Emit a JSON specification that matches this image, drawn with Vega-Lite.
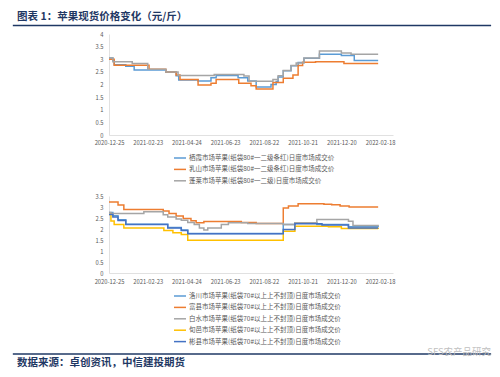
{
  "$schema": "https://vega.github.io/schema/vega-lite/v6.json",
  "padding": {"left": 12, "top": 12, "right": 10, "bottom": 0},
  "spacing": 8,
  "resolve": {"scale": {"color": "independent"}, "legend": {"color": "independent"}},
  "config": {
    "view": {"stroke": null},
    "font": "Noto Sans CJK SC",
    "axis": {"labelFont": "Noto Sans CJK SC", "labelFontSize": 5.8, "labelColor": "#595959", "ticks": false, "grid": false, "domainColor": "#D9D9D9", "domainWidth": 0.8, "title": null, "labelOverlap": false, "labelFlush": false},
    "legend": {"labelFont": "Noto Sans CJK SC", "labelFontSize": 6.5, "labelColor": "#595959", "symbolType": "stroke", "symbolSize": 144, "symbolStrokeWidth": 1.5, "labelOffset": 2, "rowPadding": 0.4, "padding": 0, "title": null}
  },
  "datasets": {
    "top": [
      {"m": "栖霞市场苹果(纸袋80#一二级条红)日度市场成交价", "d": "2020-12-25", "p": 3.05},
      {"m": "栖霞市场苹果(纸袋80#一二级条红)日度市场成交价", "d": "2020-12-31", "p": 2.95},
      {"m": "栖霞市场苹果(纸袋80#一二级条红)日度市场成交价", "d": "2021-01-02", "p": 2.78},
      {"m": "栖霞市场苹果(纸袋80#一二级条红)日度市场成交价", "d": "2021-01-20", "p": 2.72},
      {"m": "栖霞市场苹果(纸袋80#一二级条红)日度市场成交价", "d": "2021-02-02", "p": 2.57},
      {"m": "栖霞市场苹果(纸袋80#一二级条红)日度市场成交价", "d": "2021-03-23", "p": 2.5},
      {"m": "栖霞市场苹果(纸袋80#一二级条红)日度市场成交价", "d": "2021-04-08", "p": 2.35},
      {"m": "栖霞市场苹果(纸袋80#一二级条红)日度市场成交价", "d": "2021-04-12", "p": 2.18},
      {"m": "栖霞市场苹果(纸袋80#一二级条红)日度市场成交价", "d": "2021-05-12", "p": 2.14},
      {"m": "栖霞市场苹果(纸袋80#一二级条红)日度市场成交价", "d": "2021-06-01", "p": 2.27},
      {"m": "栖霞市场苹果(纸袋80#一二级条红)日度市场成交价", "d": "2021-06-09", "p": 2.36},
      {"m": "栖霞市场苹果(纸袋80#一二级条红)日度市场成交价", "d": "2021-07-13", "p": 2.27},
      {"m": "栖霞市场苹果(纸袋80#一二级条红)日度市场成交价", "d": "2021-07-28", "p": 2.14},
      {"m": "栖霞市场苹果(纸袋80#一二级条红)日度市场成交价", "d": "2021-08-10", "p": 1.9},
      {"m": "栖霞市场苹果(纸袋80#一二级条红)日度市场成交价", "d": "2021-09-02", "p": 2.0},
      {"m": "栖霞市场苹果(纸袋80#一二级条红)日度市场成交价", "d": "2021-09-10", "p": 2.12},
      {"m": "栖霞市场苹果(纸袋80#一二级条红)日度市场成交价", "d": "2021-09-13", "p": 2.3},
      {"m": "栖霞市场苹果(纸袋80#一二级条红)日度市场成交价", "d": "2021-09-21", "p": 2.54},
      {"m": "栖霞市场苹果(纸袋80#一二级条红)日度市场成交价", "d": "2021-10-03", "p": 2.74},
      {"m": "栖霞市场苹果(纸袋80#一二级条红)日度市场成交价", "d": "2021-10-14", "p": 2.87},
      {"m": "栖霞市场苹果(纸袋80#一二级条红)日度市场成交价", "d": "2021-10-23", "p": 3.04},
      {"m": "栖霞市场苹果(纸袋80#一二级条红)日度市场成交价", "d": "2021-11-16", "p": 3.2},
      {"m": "栖霞市场苹果(纸袋80#一二级条红)日度市场成交价", "d": "2021-12-20", "p": 3.15},
      {"m": "栖霞市场苹果(纸袋80#一二级条红)日度市场成交价", "d": "2022-01-09", "p": 2.95},
      {"m": "栖霞市场苹果(纸袋80#一二级条红)日度市场成交价", "d": "2022-02-15", "p": 2.95},
      {"m": "乳山市场苹果(纸袋80#一二级条红)日度市场成交价", "d": "2020-12-25", "p": 3.0},
      {"m": "乳山市场苹果(纸袋80#一二级条红)日度市场成交价", "d": "2021-01-02", "p": 2.76},
      {"m": "乳山市场苹果(纸袋80#一二级条红)日度市场成交价", "d": "2021-02-25", "p": 2.6},
      {"m": "乳山市场苹果(纸袋80#一二级条红)日度市场成交价", "d": "2021-03-23", "p": 2.5},
      {"m": "乳山市场苹果(纸袋80#一二级条红)日度市场成交价", "d": "2021-04-08", "p": 2.38},
      {"m": "乳山市场苹果(纸袋80#一二级条红)日度市场成交价", "d": "2021-04-14", "p": 2.2},
      {"m": "乳山市场苹果(纸袋80#一二级条红)日度市场成交价", "d": "2021-05-12", "p": 1.98},
      {"m": "乳山市场苹果(纸袋80#一二级条红)日度市场成交价", "d": "2021-06-01", "p": 2.05},
      {"m": "乳山市场苹果(纸袋80#一二级条红)日度市场成交价", "d": "2021-06-09", "p": 2.2},
      {"m": "乳山市场苹果(纸袋80#一二级条红)日度市场成交价", "d": "2021-07-14", "p": 2.05},
      {"m": "乳山市场苹果(纸袋80#一二级条红)日度市场成交价", "d": "2021-08-02", "p": 1.95},
      {"m": "乳山市场苹果(纸袋80#一二级条红)日度市场成交价", "d": "2021-08-10", "p": 1.82},
      {"m": "乳山市场苹果(纸袋80#一二级条红)日度市场成交价", "d": "2021-09-05", "p": 2.08},
      {"m": "乳山市场苹果(纸袋80#一二级条红)日度市场成交价", "d": "2021-09-21", "p": 2.25},
      {"m": "乳山市场苹果(纸袋80#一二级条红)日度市场成交价", "d": "2021-10-06", "p": 2.38},
      {"m": "乳山市场苹果(纸袋80#一二级条红)日度市场成交价", "d": "2021-10-14", "p": 2.75},
      {"m": "乳山市场苹果(纸袋80#一二级条红)日度市场成交价", "d": "2021-10-21", "p": 2.88},
      {"m": "乳山市场苹果(纸袋80#一二级条红)日度市场成交价", "d": "2021-11-10", "p": 2.9},
      {"m": "乳山市场苹果(纸袋80#一二级条红)日度市场成交价", "d": "2021-12-24", "p": 2.83},
      {"m": "乳山市场苹果(纸袋80#一二级条红)日度市场成交价", "d": "2022-02-15", "p": 2.83},
      {"m": "蓬莱市场苹果(纸袋80#一二级)日度市场成交价", "d": "2020-12-25", "p": 3.05},
      {"m": "蓬莱市场苹果(纸袋80#一二级)日度市场成交价", "d": "2020-12-31", "p": 2.9},
      {"m": "蓬莱市场苹果(纸袋80#一二级)日度市场成交价", "d": "2021-01-30", "p": 2.83},
      {"m": "蓬莱市场苹果(纸袋80#一二级)日度市场成交价", "d": "2021-02-23", "p": 2.6},
      {"m": "蓬莱市场苹果(纸袋80#一二级)日度市场成交价", "d": "2021-03-23", "p": 2.5},
      {"m": "蓬莱市场苹果(纸袋80#一二级)日度市场成交价", "d": "2021-04-11", "p": 2.36},
      {"m": "蓬莱市场苹果(纸袋80#一二级)日度市场成交价", "d": "2021-06-06", "p": 2.4},
      {"m": "蓬莱市场苹果(纸袋80#一二级)日度市场成交价", "d": "2021-07-22", "p": 2.34},
      {"m": "蓬莱市场苹果(纸袋80#一二级)日度市场成交价", "d": "2021-07-30", "p": 2.13},
      {"m": "蓬莱市场苹果(纸袋80#一二级)日度市场成交价", "d": "2021-09-05", "p": 2.2},
      {"m": "蓬莱市场苹果(纸袋80#一二级)日度市场成交价", "d": "2021-09-13", "p": 2.35},
      {"m": "蓬莱市场苹果(纸袋80#一二级)日度市场成交价", "d": "2021-09-21", "p": 2.55},
      {"m": "蓬莱市场苹果(纸袋80#一二级)日度市场成交价", "d": "2021-10-03", "p": 2.75},
      {"m": "蓬莱市场苹果(纸袋80#一二级)日度市场成交价", "d": "2021-10-11", "p": 2.85},
      {"m": "蓬莱市场苹果(纸袋80#一二级)日度市场成交价", "d": "2021-10-23", "p": 3.05},
      {"m": "蓬莱市场苹果(纸袋80#一二级)日度市场成交价", "d": "2021-11-16", "p": 3.33},
      {"m": "蓬莱市场苹果(纸袋80#一二级)日度市场成交价", "d": "2021-12-20", "p": 3.25},
      {"m": "蓬莱市场苹果(纸袋80#一二级)日度市场成交价", "d": "2022-01-04", "p": 3.2},
      {"m": "蓬莱市场苹果(纸袋80#一二级)日度市场成交价", "d": "2022-02-15", "p": 3.2}
    ],
    "bottom": [
      {"m": "洛川市场苹果(纸袋70#以上上不封顶)日度市场成交价", "d": "2020-12-25", "p": 2.75},
      {"m": "洛川市场苹果(纸袋70#以上上不封顶)日度市场成交价", "d": "2020-12-31", "p": 2.6},
      {"m": "洛川市场苹果(纸袋70#以上上不封顶)日度市场成交价", "d": "2021-01-08", "p": 2.42},
      {"m": "洛川市场苹果(纸袋70#以上上不封顶)日度市场成交价", "d": "2021-01-20", "p": 2.22},
      {"m": "洛川市场苹果(纸袋70#以上上不封顶)日度市场成交价", "d": "2021-03-26", "p": 2.07},
      {"m": "洛川市场苹果(纸袋70#以上上不封顶)日度市场成交价", "d": "2021-04-16", "p": 1.95},
      {"m": "洛川市场苹果(纸袋70#以上上不封顶)日度市场成交价", "d": "2021-04-26", "p": 1.79},
      {"m": "洛川市场苹果(纸袋70#以上上不封顶)日度市场成交价", "d": "2021-09-21", "p": 2.2},
      {"m": "洛川市场苹果(纸袋70#以上上不封顶)日度市场成交价", "d": "2021-10-09", "p": 2.28},
      {"m": "洛川市场苹果(纸袋70#以上上不封顶)日度市场成交价", "d": "2021-11-12", "p": 2.2},
      {"m": "洛川市场苹果(纸袋70#以上上不封顶)日度市场成交价", "d": "2021-12-31", "p": 2.1},
      {"m": "洛川市场苹果(纸袋70#以上上不封顶)日度市场成交价", "d": "2022-02-15", "p": 2.08},
      {"m": "富县市场苹果(纸袋70#以上上不封顶)日度市场成交价", "d": "2020-12-25", "p": 3.23},
      {"m": "富县市场苹果(纸袋70#以上上不封顶)日度市场成交价", "d": "2021-01-08", "p": 3.09},
      {"m": "富县市场苹果(纸袋70#以上上不封顶)日度市场成交价", "d": "2021-01-17", "p": 2.89},
      {"m": "富县市场苹果(纸袋70#以上上不封顶)日度市场成交价", "d": "2021-03-19", "p": 2.82},
      {"m": "富县市场苹果(纸袋70#以上上不封顶)日度市场成交价", "d": "2021-03-28", "p": 2.7},
      {"m": "富县市场苹果(纸袋70#以上上不封顶)日度市场成交价", "d": "2021-04-08", "p": 2.59},
      {"m": "富县市场苹果(纸袋70#以上上不封顶)日度市场成交价", "d": "2021-04-19", "p": 2.48},
      {"m": "富县市场苹果(纸袋70#以上上不封顶)日度市场成交价", "d": "2021-05-01", "p": 2.37},
      {"m": "富县市场苹果(纸袋70#以上上不封顶)日度市场成交价", "d": "2021-05-09", "p": 2.28},
      {"m": "富县市场苹果(纸袋70#以上上不封顶)日度市场成交价", "d": "2021-05-21", "p": 2.34},
      {"m": "富县市场苹果(纸袋70#以上上不封顶)日度市场成交价", "d": "2021-07-18", "p": 2.3},
      {"m": "富县市场苹果(纸袋70#以上上不封顶)日度市场成交价", "d": "2021-08-10", "p": 2.25},
      {"m": "富县市场苹果(纸袋70#以上上不封顶)日度市场成交价", "d": "2021-09-21", "p": 2.96},
      {"m": "富县市场苹果(纸袋70#以上上不封顶)日度市场成交价", "d": "2021-09-29", "p": 3.05},
      {"m": "富县市场苹果(纸袋70#以上上不封顶)日度市场成交价", "d": "2021-10-14", "p": 3.15},
      {"m": "富县市场苹果(纸袋70#以上上不封顶)日度市场成交价", "d": "2021-11-23", "p": 3.13},
      {"m": "富县市场苹果(纸袋70#以上上不封顶)日度市场成交价", "d": "2021-12-05", "p": 3.1},
      {"m": "富县市场苹果(纸袋70#以上上不封顶)日度市场成交价", "d": "2021-12-18", "p": 3.05},
      {"m": "富县市场苹果(纸袋70#以上上不封顶)日度市场成交价", "d": "2022-01-01", "p": 3.0},
      {"m": "富县市场苹果(纸袋70#以上上不封顶)日度市场成交价", "d": "2022-02-15", "p": 3.0},
      {"m": "白水市场苹果(纸袋70#以上上不封顶)日度市场成交价", "d": "2020-12-25", "p": 2.75},
      {"m": "白水市场苹果(纸袋70#以上上不封顶)日度市场成交价", "d": "2020-12-28", "p": 2.7},
      {"m": "白水市场苹果(纸袋70#以上上不封顶)日度市场成交价", "d": "2021-02-17", "p": 2.78},
      {"m": "白水市场苹果(纸袋70#以上上不封顶)日度市场成交价", "d": "2021-03-19", "p": 2.65},
      {"m": "白水市场苹果(纸袋70#以上上不封顶)日度市场成交价", "d": "2021-03-26", "p": 2.55},
      {"m": "白水市场苹果(纸袋70#以上上不封顶)日度市场成交价", "d": "2021-04-08", "p": 2.45},
      {"m": "白水市场苹果(纸袋70#以上上不封顶)日度市场成交价", "d": "2021-04-16", "p": 2.4},
      {"m": "白水市场苹果(纸袋70#以上上不封顶)日度市场成交价", "d": "2021-04-26", "p": 2.3},
      {"m": "白水市场苹果(纸袋70#以上上不封顶)日度市场成交价", "d": "2021-05-06", "p": 2.2},
      {"m": "白水市场苹果(纸袋70#以上上不封顶)日度市场成交价", "d": "2021-05-14", "p": 2.05},
      {"m": "白水市场苹果(纸袋70#以上上不封顶)日度市场成交价", "d": "2021-05-21", "p": 1.96},
      {"m": "白水市场苹果(纸袋70#以上上不封顶)日度市场成交价", "d": "2021-05-27", "p": 2.05},
      {"m": "白水市场苹果(纸袋70#以上上不封顶)日度市场成交价", "d": "2021-06-17", "p": 2.2},
      {"m": "白水市场苹果(纸袋70#以上上不封顶)日度市场成交价", "d": "2021-06-28", "p": 2.28},
      {"m": "白水市场苹果(纸袋70#以上上不封顶)日度市场成交价", "d": "2021-07-28", "p": 2.25},
      {"m": "白水市场苹果(纸袋70#以上上不封顶)日度市场成交价", "d": "2021-09-21", "p": 2.2},
      {"m": "白水市场苹果(纸袋70#以上上不封顶)日度市场成交价", "d": "2021-10-09", "p": 2.28},
      {"m": "白水市场苹果(纸袋70#以上上不封顶)日度市场成交价", "d": "2021-11-12", "p": 2.43},
      {"m": "白水市场苹果(纸袋70#以上上不封顶)日度市场成交价", "d": "2021-12-24", "p": 2.43},
      {"m": "白水市场苹果(纸袋70#以上上不封顶)日度市场成交价", "d": "2021-12-31", "p": 2.35},
      {"m": "白水市场苹果(纸袋70#以上上不封顶)日度市场成交价", "d": "2022-01-07", "p": 2.16},
      {"m": "白水市场苹果(纸袋70#以上上不封顶)日度市场成交价", "d": "2022-02-15", "p": 2.13},
      {"m": "旬邑市场苹果(纸袋70#以上上不封顶)日度市场成交价", "d": "2020-12-25", "p": 2.66},
      {"m": "旬邑市场苹果(纸袋70#以上上不封顶)日度市场成交价", "d": "2020-12-28", "p": 2.36},
      {"m": "旬邑市场苹果(纸袋70#以上上不封顶)日度市场成交价", "d": "2021-01-02", "p": 2.2},
      {"m": "旬邑市场苹果(纸袋70#以上上不封顶)日度市场成交价", "d": "2021-01-17", "p": 2.05},
      {"m": "旬邑市场苹果(纸袋70#以上上不封顶)日度市场成交价", "d": "2021-03-20", "p": 1.93},
      {"m": "旬邑市场苹果(纸袋70#以上上不封顶)日度市场成交价", "d": "2021-04-03", "p": 1.83},
      {"m": "旬邑市场苹果(纸袋70#以上上不封顶)日度市场成交价", "d": "2021-04-16", "p": 1.75},
      {"m": "旬邑市场苹果(纸袋70#以上上不封顶)日度市场成交价", "d": "2021-04-26", "p": 1.49},
      {"m": "旬邑市场苹果(纸袋70#以上上不封顶)日度市场成交价", "d": "2021-09-21", "p": 1.9},
      {"m": "旬邑市场苹果(纸袋70#以上上不封顶)日度市场成交价", "d": "2021-10-09", "p": 2.13},
      {"m": "旬邑市场苹果(纸袋70#以上上不封顶)日度市场成交价", "d": "2021-11-30", "p": 2.1},
      {"m": "旬邑市场苹果(纸袋70#以上上不封顶)日度市场成交价", "d": "2021-12-20", "p": 2.02},
      {"m": "旬邑市场苹果(纸袋70#以上上不封顶)日度市场成交价", "d": "2022-02-15", "p": 2.0},
      {"m": "彬县市场苹果(纸袋70#以上上不封顶)日度市场成交价", "d": "2020-12-25", "p": 2.66},
      {"m": "彬县市场苹果(纸袋70#以上上不封顶)日度市场成交价", "d": "2020-12-31", "p": 2.54},
      {"m": "彬县市场苹果(纸袋70#以上上不封顶)日度市场成交价", "d": "2021-01-08", "p": 2.39},
      {"m": "彬县市场苹果(纸袋70#以上上不封顶)日度市场成交价", "d": "2021-01-20", "p": 2.2},
      {"m": "彬县市场苹果(纸袋70#以上上不封顶)日度市场成交价", "d": "2021-03-26", "p": 2.05},
      {"m": "彬县市场苹果(纸袋70#以上上不封顶)日度市场成交价", "d": "2021-04-16", "p": 1.93},
      {"m": "彬县市场苹果(纸袋70#以上上不封顶)日度市场成交价", "d": "2021-04-26", "p": 1.78},
      {"m": "彬县市场苹果(纸袋70#以上上不封顶)日度市场成交价", "d": "2021-09-21", "p": 1.98},
      {"m": "彬县市场苹果(纸袋70#以上上不封顶)日度市场成交价", "d": "2021-10-09", "p": 2.24},
      {"m": "彬县市场苹果(纸袋70#以上上不封顶)日度市场成交价", "d": "2021-11-20", "p": 2.18},
      {"m": "彬县市场苹果(纸袋70#以上上不封顶)日度市场成交价", "d": "2021-12-31", "p": 2.05},
      {"m": "彬县市场苹果(纸袋70#以上上不封顶)日度市场成交价", "d": "2022-02-15", "p": 2.05}
    ]
  },
  "vconcat": [
    {
      "width": 284,
      "height": 101,
      "title": {"text": "图表 1：苹果现货价格变化（元/斤）", "anchor": "start", "frame": "bounds", "font": "Noto Sans CJK SC", "fontSize": 10.5, "fontWeight": "bold", "color": "#1F3864", "offset": 2, "dx": 5},
      "layer": [
        {
          "data": {"name": "top"},
          "mark": {"type": "line", "interpolate": "step-after", "strokeWidth": 1.5},
          "encoding": {
            "x": {"field": "d", "type": "temporal", "scale": {"type": "utc", "domain": [{"year": 2020, "month": 12, "date": 25, "utc": true}, {"year": 2022, "month": 3, "date": 10, "utc": true}]},
              "axis": {"format": "%Y-%m-%d", "labelPadding": 4.5, "values": [{"year": 2020, "month": 12, "date": 25, "utc": true}, {"year": 2021, "month": 2, "date": 23, "utc": true}, {"year": 2021, "month": 4, "date": 24, "utc": true}, {"year": 2021, "month": 6, "date": 23, "utc": true}, {"year": 2021, "month": 8, "date": 22, "utc": true}, {"year": 2021, "month": 10, "date": 21, "utc": true}, {"year": 2021, "month": 12, "date": 20, "utc": true}, {"year": 2022, "month": 2, "date": 18, "utc": true}]}},
            "y": {"field": "p", "type": "quantitative", "scale": {"domain": [0, 4], "nice": false, "zero": false}, "axis": {"values": [0, 0.5, 1, 1.5, 2, 2.5, 3, 3.5, 4], "format": "~g", "labelPadding": 6}},
            "color": {"field": "m", "type": "nominal", "scale": {"domain": ["栖霞市场苹果(纸袋80#一二级条红)日度市场成交价", "乳山市场苹果(纸袋80#一二级条红)日度市场成交价", "蓬莱市场苹果(纸袋80#一二级)日度市场成交价"], "range": ["#5B9BD5", "#ED7D31", "#A5A5A5"]},
              "legend": {"orient": "none", "legendX": 64, "legendY": 117, "direction": "vertical"}}
          }
        },
        {
          "data": {"values": [{}]},
          "mark": {"type": "rule", "color": "#1F3864", "strokeWidth": 1.5},
          "encoding": {
            "x": {"datum": {"year": 2020, "month": 7, "date": 29, "utc": true}, "type": "temporal", "scale": {"type": "utc", "domain": [{"year": 2020, "month": 12, "date": 25, "utc": true}, {"year": 2022, "month": 3, "date": 10, "utc": true}]},
              "axis": {"format": "%Y-%m-%d", "labelPadding": 4.5, "values": [{"year": 2020, "month": 12, "date": 25, "utc": true}, {"year": 2021, "month": 2, "date": 23, "utc": true}, {"year": 2021, "month": 4, "date": 24, "utc": true}, {"year": 2021, "month": 6, "date": 23, "utc": true}, {"year": 2021, "month": 8, "date": 22, "utc": true}, {"year": 2021, "month": 10, "date": 21, "utc": true}, {"year": 2021, "month": 12, "date": 20, "utc": true}, {"year": 2022, "month": 2, "date": 18, "utc": true}]}},
            "x2": {"datum": {"year": 2022, "month": 8, "date": 9, "utc": true}},
            "y": {"datum": 4.337, "type": "quantitative", "scale": {"domain": [0, 4], "nice": false, "zero": false}, "axis": {"values": [0, 0.5, 1, 1.5, 2, 2.5, 3, 3.5, 4], "format": "~g", "labelPadding": 6}}
          }
        }
      ]
    },
    {
      "width": 284,
      "height": 77,
      "title": {"text": "数据来源：卓创资讯，中信建投期货", "orient": "bottom", "anchor": "start", "frame": "bounds", "font": "Noto Sans CJK SC", "fontSize": 10.5, "fontWeight": "bold", "color": "#1F3864", "offset": 1, "dx": 5},
      "layer": [
        {
          "data": {"name": "bottom"},
          "mark": {"type": "line", "interpolate": "step-after", "strokeWidth": 1.5},
          "encoding": {
            "x": {"field": "d", "type": "temporal", "scale": {"type": "utc", "domain": [{"year": 2020, "month": 12, "date": 25, "utc": true}, {"year": 2022, "month": 3, "date": 10, "utc": true}]},
              "axis": {"format": "%Y-%m-%d", "labelPadding": 5, "values": [{"year": 2020, "month": 12, "date": 25, "utc": true}, {"year": 2021, "month": 2, "date": 23, "utc": true}, {"year": 2021, "month": 4, "date": 24, "utc": true}, {"year": 2021, "month": 6, "date": 23, "utc": true}, {"year": 2021, "month": 8, "date": 22, "utc": true}, {"year": 2021, "month": 10, "date": 21, "utc": true}, {"year": 2021, "month": 12, "date": 20, "utc": true}, {"year": 2022, "month": 2, "date": 18, "utc": true}]}},
            "y": {"field": "p", "type": "quantitative", "scale": {"domain": [0, 3.5], "nice": false, "zero": false}, "axis": {"values": [0, 0.5, 1, 1.5, 2, 2.5, 3, 3.5], "format": "~g", "labelPadding": 6}},
            "color": {"field": "m", "type": "nominal", "scale": {"domain": ["洛川市场苹果(纸袋70#以上上不封顶)日度市场成交价", "富县市场苹果(纸袋70#以上上不封顶)日度市场成交价", "白水市场苹果(纸袋70#以上上不封顶)日度市场成交价", "旬邑市场苹果(纸袋70#以上上不封顶)日度市场成交价", "彬县市场苹果(纸袋70#以上上不封顶)日度市场成交价"], "range": ["#5B9BD5", "#ED7D31", "#A5A5A5", "#FFC000", "#4472C4"]},
              "legend": {"orient": "none", "legendX": 64, "legendY": 93, "direction": "vertical"}}
          }
        },
        {
          "data": {"values": [{}]},
          "mark": {"type": "rule", "color": "#1F3864", "strokeWidth": 1.5},
          "encoding": {
            "x": {"datum": {"year": 2020, "month": 7, "date": 29, "utc": true}, "type": "temporal", "scale": {"type": "utc", "domain": [{"year": 2020, "month": 12, "date": 25, "utc": true}, {"year": 2022, "month": 3, "date": 10, "utc": true}]},
              "axis": {"format": "%Y-%m-%d", "labelPadding": 5, "values": [{"year": 2020, "month": 12, "date": 25, "utc": true}, {"year": 2021, "month": 2, "date": 23, "utc": true}, {"year": 2021, "month": 4, "date": 24, "utc": true}, {"year": 2021, "month": 6, "date": 23, "utc": true}, {"year": 2021, "month": 8, "date": 22, "utc": true}, {"year": 2021, "month": 10, "date": 21, "utc": true}, {"year": 2021, "month": 12, "date": 20, "utc": true}, {"year": 2022, "month": 2, "date": 18, "utc": true}]}},
            "x2": {"datum": {"year": 2022, "month": 8, "date": 9, "utc": true}},
            "y": {"datum": -3.68, "type": "quantitative", "scale": {"domain": [0, 3.5], "nice": false, "zero": false}, "axis": {"values": [0, 0.5, 1, 1.5, 2, 2.5, 3, 3.5], "format": "~g", "labelPadding": 6}}
          }
        },
        {
          "data": {"values": [{"t": "SFS农产品研究"}]},
          "mark": {"type": "text", "align": "right", "baseline": "middle", "fontSize": 9.5, "color": "#BFBFBF", "font": "Noto Sans CJK SC"},
          "encoding": {
            "text": {"field": "t"},
            "x": {"datum": {"year": 2022, "month": 8, "date": 9, "utc": true}, "type": "temporal", "scale": {"type": "utc", "domain": [{"year": 2020, "month": 12, "date": 25, "utc": true}, {"year": 2022, "month": 3, "date": 10, "utc": true}]},
              "axis": {"format": "%Y-%m-%d", "labelPadding": 5, "values": [{"year": 2020, "month": 12, "date": 25, "utc": true}, {"year": 2021, "month": 2, "date": 23, "utc": true}, {"year": 2021, "month": 4, "date": 24, "utc": true}, {"year": 2021, "month": 6, "date": 23, "utc": true}, {"year": 2021, "month": 8, "date": 22, "utc": true}, {"year": 2021, "month": 10, "date": 21, "utc": true}, {"year": 2021, "month": 12, "date": 20, "utc": true}, {"year": 2022, "month": 2, "date": 18, "utc": true}]}},
            "y": {"datum": -3.6, "type": "quantitative", "scale": {"domain": [0, 3.5], "nice": false, "zero": false}, "axis": {"values": [0, 0.5, 1, 1.5, 2, 2.5, 3, 3.5], "format": "~g", "labelPadding": 6}}
          }
        }
      ]
    }
  ]
}
